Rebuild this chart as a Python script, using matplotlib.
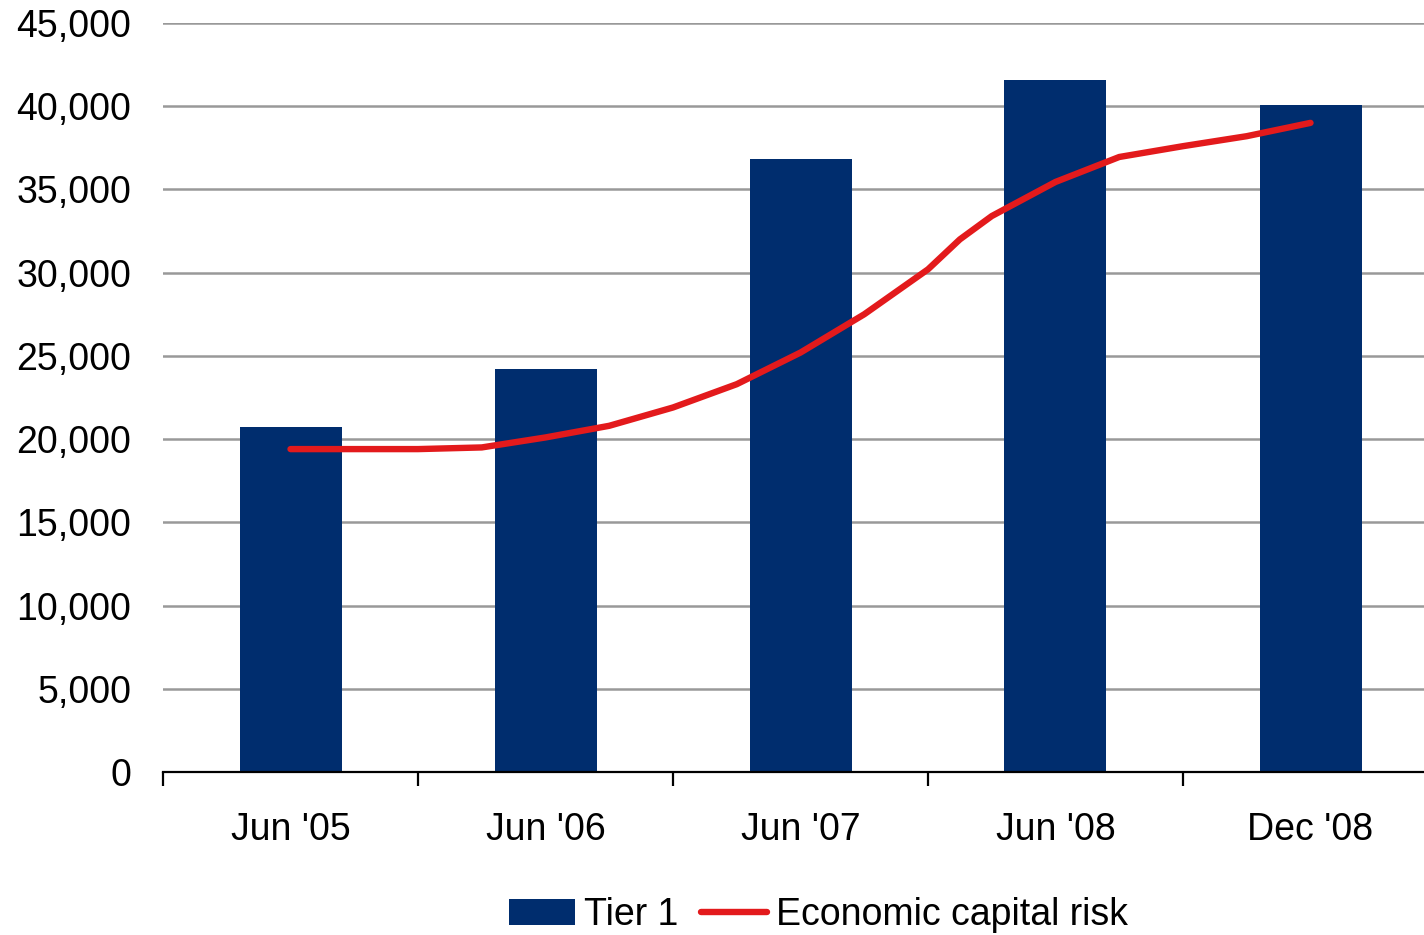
import matplotlib.pyplot as plt
import numpy as np

plt.rcParams['font.family'] = ['Liberation Sans', 'DejaVu Sans']

periods = ["Jun '05", "Jun '06", "Jun '07", "Jun '08", "Dec '08"]
tier1 = [20700, 24200, 36800, 41600, 40100]

# economic capital risk, sampled between the period points
risk_pos = [0, 0.25, 0.5, 0.75, 1, 1.25, 1.5, 1.75, 2, 2.25, 2.5, 2.625,
            2.75, 3, 3.25, 3.5, 3.75, 4]
risk = [19400, 19400, 19400, 19500, 20100, 20800, 21900, 23300, 25200,
        27500, 30200, 32000, 33400, 35450, 36950, 37600, 38200, 39000]

bar_color = '#002D6E'
line_color = '#E31A1C'

fig = plt.figure(figsize=(14.24, 9.35), dpi=100)
ax = fig.add_axes([163/1424, 163/935, 1275/1424, 749/935])

x = np.arange(len(periods))
bars = ax.bar(x, tier1, width=0.4, color=bar_color, label='Tier 1', zorder=2)
line, = ax.plot(risk_pos, risk, color=line_color, lw=4.6,
                solid_capstyle='round', solid_joinstyle='round',
                label='Economic capital risk', zorder=3)

ax.set_xlim(-0.5, 4.5)
ax.set_ylim(0, 45000)
ax.set_yticks(np.arange(0, 45001, 5000))
ax.yaxis.set_major_formatter(plt.FuncFormatter(lambda v, p: f'{int(v):,}'))
ax.grid(axis='y', color='#999999', lw=1.8, zorder=0)
ax.set_axisbelow(True)

ax.set_xticks(x)
ax.set_xticklabels(periods)
ax.set_xticks(np.arange(-0.5, 4.6, 1), minor=True)
ax.tick_params(axis='x', which='major', length=0, pad=29, labelsize=27)
ax.tick_params(axis='x', which='minor', length=10, width=1.6, color='black')
ax.tick_params(axis='y', length=0, pad=23, labelsize=27)

for s in ['top', 'right', 'left']:
    ax.spines[s].set_visible(False)
ax.spines['bottom'].set_linewidth(1.6)

fig.legend([bars, line], ['Tier 1', 'Economic capital risk'],
           loc='center', bbox_to_anchor=(0.575, 0.021), ncol=2,
           frameon=False, fontsize=27, handlelength=1.75, handleheight=0.7,
           handletextpad=0.25, columnspacing=0.6, borderpad=0)

fig.savefig('out.png', dpi=100)
